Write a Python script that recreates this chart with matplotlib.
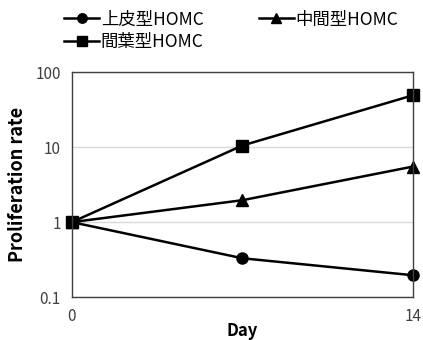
import matplotlib.pyplot as plt
from matplotlib.ticker import FixedLocator, NullLocator, FixedFormatter

plt.rcParams['font.family'] = ['Noto Sans CJK JP', 'DejaVu Sans']

days = [0, 7, 14]
epithelial = [1, 0.33, 0.196]      # 上皮型HOMC
intermediate = [1, 1.96, 5.5]      # 中間型HOMC
mesenchymal = [1, 10.5, 49]        # 間葉型HOMC

fig = plt.figure(figsize=(4.23, 3.4), dpi=100)
ax = fig.add_axes([0.170, 0.126, 0.806, 0.662])

l1, = ax.plot(days, epithelial, color='black', lw=1.8, marker='o', ms=8, label='上皮型HOMC')
l2, = ax.plot(days, intermediate, color='black', lw=1.8, marker='^', ms=8, label='中間型HOMC')
l3, = ax.plot(days, mesenchymal, color='black', lw=1.8, marker='s', ms=8, label='間葉型HOMC')

ax.set_yscale('log')
ax.set_ylim(0.1, 100)
ax.set_xlim(0, 14)
ax.yaxis.set_major_locator(FixedLocator([0.1, 1, 10, 100]))
ax.yaxis.set_major_formatter(FixedFormatter(['0.1', '1', '10', '100']))
ax.yaxis.set_minor_locator(NullLocator())
ax.set_xticks([0, 14])
ax.grid(axis='y', color='#d9d9d9', lw=1)
ax.set_axisbelow(True)
for s in ax.spines.values():
    s.set_color('#404040')
    s.set_linewidth(1)
ax.tick_params(length=0, labelsize=11, labelcolor='#404040')
ax.tick_params(axis='x', pad=8)
ax.tick_params(axis='y', pad=8)
for line in (l1, l2, l3):
    line.set_clip_on(False)

ax.set_xlabel('Day', fontsize=12, fontweight='bold', labelpad=-2)
ax.set_ylabel('Proliferation rate', fontsize=13, fontweight='bold', labelpad=6)

fig.legend(handles=[l1, l3, l2], ncol=2, frameon=False, loc='upper left',
           bbox_to_anchor=(0.115, 1.015), fontsize=12.5, handlelength=2.0,
           handletextpad=0.1, columnspacing=3.2, labelspacing=0.25,
           markerscale=0.85)

fig.savefig('out.png', dpi=100)
